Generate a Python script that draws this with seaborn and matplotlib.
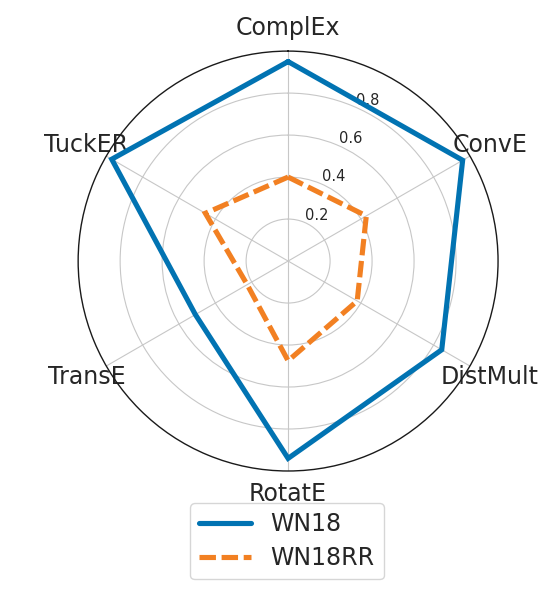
import numpy as np
import pandas as pd
import matplotlib
matplotlib.use("Agg")
import matplotlib.pyplot as plt
import seaborn as sns

# modelos e valores
models = ['ComplEx', 'ConvE', 'DistMult', 'RotatE', 'TransE', 'TuckER']
wn18 = [0.95, 0.96, 0.845, 0.94, 0.51, 0.97]
wn18rr = [0.40, 0.43, 0.38, 0.475, 0.225, 0.455]
datasets = ['WN18', 'WN18RR']
colors = ['#0173b2', '#f28022']

sns.set_style('whitegrid', {'axes.edgecolor': '0.1', 'grid.color': '0.78'})

angles = np.linspace(0, 2 * np.pi, len(models), endpoint=False)
theta = np.r_[angles, 2 * np.pi]

# tabela longa, fechando o poligono
df = pd.concat([
    pd.DataFrame({'theta': theta, 'value': vals + vals[:1], 'dataset': name})
    for name, vals in zip(datasets, [wn18, wn18rr])
])

fig = plt.figure(figsize=(5.38, 5.99), dpi=100)
ax = fig.add_axes([0.145, 0.2137, 0.781, 0.701], projection='polar')
ax.set_theta_offset(np.pi / 2)
ax.set_theta_direction(-1)

sns.lineplot(data=df, x='theta', y='value', hue='dataset', style='dataset',
             palette=colors, dashes={'WN18': '', 'WN18RR': (3.2, 1.1)},
             linewidth=3.7, ax=ax, legend=False, estimator=None, sort=False)
for line in ax.lines:
    line.set_solid_joinstyle('miter')
    line.set_dash_joinstyle('miter')

ax.set_xticks(angles)
ax.set_xticklabels(models, fontsize=17, color='0.15')
ax.tick_params(axis='x', pad=6)
ax.set_ylim(0, 1)
ax.set_yticks([0.2, 0.4, 0.6, 0.8])
ax.set_yticklabels(['0.2', '0.4', '0.6', '0.8'], fontsize=10.5, color='0.15')
ax.set_rlabel_position(24)
ax.set_xlabel('')
ax.set_ylabel('')
ax.spines['polar'].set_linewidth(1.0)

handles = ax.lines[:2]
fig.legend(handles, datasets, loc='upper center', bbox_to_anchor=(0.533, 0.18),
           fontsize=17, handlelength=2.2, frameon=True, borderpad=0.4,
           labelspacing=0.4)

fig.savefig('out.png', dpi=100)
